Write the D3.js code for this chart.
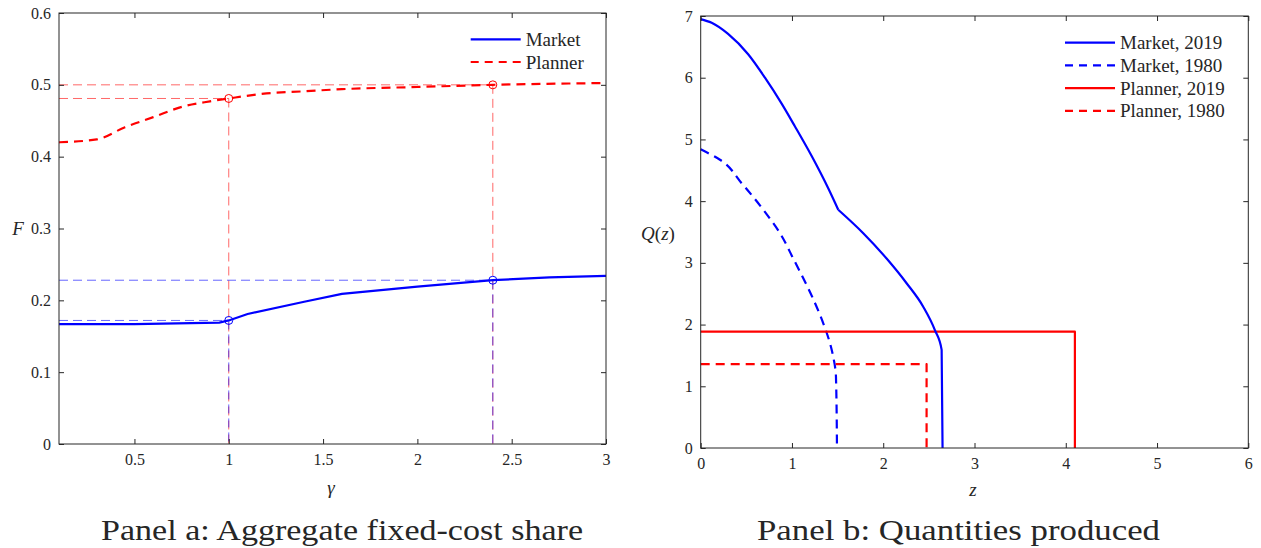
<!DOCTYPE html>
<html>
<head>
<meta charset="utf-8">
<script src="https://cdn.jsdelivr.net/npm/d3@7"></script>
<style>
  body { margin: 0; background: #fff; }
  svg text { font-family: "Liberation Serif", "DejaVu Serif", serif; fill: #262626; }
  .axis path { display: none; }
  .axis line { stroke: #262626; }
  .frame { fill: none; stroke: #262626; stroke-width: 1; }
</style>
</head>
<body>
<div id="chart"></div>
<script>
// ---- Panel a data: aggregate fixed-cost share F vs gamma ----
const gammaMarket = [0.1, 0.5, 0.95, 1.0, 1.1, 1.4, 1.6, 2.0, 2.4, 2.7, 3.0];
const fMarket     = [0.167, 0.167, 0.169, 0.172, 0.181, 0.198, 0.209, 0.219, 0.228, 0.232, 0.234];
const gammaPlanner = [0.1, 0.3, 0.45, 0.6, 0.76, 0.9, 1.0, 1.2, 1.4, 1.6, 2.0, 2.4, 3.0];
const fPlanner     = [0.420, 0.424, 0.441, 0.455, 0.470, 0.477, 0.481, 0.488, 0.491, 0.494, 0.497, 0.500, 0.5025];
// highlighted gammas and their values
const gammaMarks   = [1.0, 2.4];
const fMarketMarks = [0.172, 0.228];
const fPlannerMarks = [0.481, 0.500];
const panelATicksX = [0.5, 1, 1.5, 2, 2.5, 3];
const panelATicksY = [0, 0.1, 0.2, 0.3, 0.4, 0.5, 0.6];

// ---- Panel b data: quantities produced Q(z) ----
const zMarket2019 = [0, 0.12, 0.30, 0.52, 0.704, 0.887, 1.033, 1.216, 1.40, 1.507, 1.781, 2.037, 2.256, 2.438, 2.566, 2.64, 2.65];
const qMarket2019 = [6.95, 6.89, 6.71, 6.38, 6.00, 5.58, 5.21, 4.73, 4.20, 3.86, 3.48, 3.07, 2.67, 2.29, 1.91, 1.59, 0];
const kinkMarket2019 = 1.507; // non-smooth point of the 2019 market curve
const zMarket1980 = [0, 0.211, 0.449, 0.686, 0.869, 1.014, 1.124, 1.252, 1.343, 1.416, 1.452, 1.482, 1.493];
const qMarket1980 = [4.84, 4.67, 4.29, 3.86, 3.48, 3.07, 2.75, 2.35, 2.02, 1.70, 1.48, 1.16, 0];
const zPlanner2019 = [0, 4.10, 4.10];
const qPlanner2019 = [1.885, 1.885, 0];
const zPlanner1980 = [0, 2.475, 2.475];
const qPlanner1980 = [1.36, 1.36, 0];
const panelBTicksX = [0, 1, 2, 3, 4, 5, 6];
const panelBTicksY = [0, 1, 2, 3, 4, 5, 6, 7];

const BLUE = '#0000ff', RED = '#ff0000';

const svg = d3.select('#chart').append('svg')
  .attr('width', 1261)
  .attr('height', 548);

// draws box, inner ticks on all four sides and tick labels
function drawFrame(g, x, y, w, h, ticksX, ticksY, fmtX, fmtY) {
  g.append('g').attr('class', 'axis')
    .attr('transform', `translate(0,${h})`)
    .call(d3.axisBottom(x).tickValues(ticksX).tickFormat(fmtX).tickSizeInner(-5).tickSizeOuter(0).tickPadding(10))
    .selectAll('text').style('font-size', '16px').attr('fill', '#262626');
  g.append('g').attr('class', 'axis')
    .call(d3.axisTop(x).tickValues(ticksX).tickFormat('').tickSizeInner(-5).tickSizeOuter(0));
  g.append('g').attr('class', 'axis')
    .call(d3.axisLeft(y).tickValues(ticksY).tickFormat(fmtY).tickSizeInner(-5).tickSizeOuter(0).tickPadding(8))
    .selectAll('text').style('font-size', '16px').attr('fill', '#262626');
  g.append('g').attr('class', 'axis')
    .attr('transform', `translate(${w},0)`)
    .call(d3.axisRight(y).tickValues(ticksY).tickFormat('').tickSizeInner(-5).tickSizeOuter(0));
  g.append('rect').attr('class', 'frame')
    .attr('x', 0).attr('y', 0).attr('width', w).attr('height', h);
}

function drawLegend(g, items, x0, y0, rowH) {
  items.forEach((d, i) => {
    const yy = y0 + i * rowH;
    g.append('line')
      .attr('x1', x0).attr('x2', x0 + 50)
      .attr('y1', yy).attr('y2', yy)
      .attr('stroke', d.color).attr('stroke-width', 2.2)
      .attr('stroke-dasharray', d.dash ? '8,6' : null);
    g.append('text')
      .attr('x', x0 + 55).attr('y', yy)
      .attr('dy', '0.35em')
      .style('font-size', '19px')
      .text(d.label);
  });
}

// ================= Panel a =================
{
  const m = { left: 59, top: 13 }, w = 547, h = 431;
  const g = svg.append('g').attr('transform', `translate(${m.left},${m.top})`);
  const x = d3.scaleLinear().domain([0.1, 3]).range([0, w]);
  const y = d3.scaleLinear().domain([0, 0.6]).range([h, 0]);

  // thin reference lines (red first, blue on top)
  [[fPlannerMarks, RED], [fMarketMarks, BLUE]].forEach(([vals, col]) => {
    gammaMarks.forEach((gm, i) => {
      g.append('line')
        .attr('x1', x(0.1)).attr('x2', x(gm))
        .attr('y1', y(vals[i])).attr('y2', y(vals[i]))
        .attr('stroke', col).attr('stroke-opacity', 0.6)
        .attr('stroke-width', 1).attr('stroke-dasharray', '9,5');
      g.append('line')
        .attr('x1', x(gm)).attr('x2', x(gm))
        .attr('y1', y(vals[i])).attr('y2', y(0))
        .attr('stroke', col).attr('stroke-opacity', 0.6)
        .attr('stroke-width', 1).attr('stroke-dasharray', '9,5');
    });
  });

  const line = d3.line().x(d => x(d[0])).y(d => y(d[1]));
  g.append('path')
    .datum(d3.zip(gammaMarket, fMarket))
    .attr('d', line)
    .attr('fill', 'none').attr('stroke', BLUE).attr('stroke-width', 2.2);
  g.append('path')
    .datum(d3.zip(gammaPlanner, fPlanner))
    .attr('d', line.curve(d3.curveMonotoneX))
    .attr('fill', 'none').attr('stroke', RED).attr('stroke-width', 2.2)
    .attr('stroke-dasharray', '9,6');

  // circles at highlighted points
  [[fPlannerMarks, RED], [fMarketMarks, BLUE]].forEach(([vals, col]) => {
    g.selectAll(null).data(gammaMarks).enter().append('circle')
      .attr('cx', d => x(d)).attr('cy', (d, i) => y(vals[i]))
      .attr('r', 4).attr('fill', 'none').attr('stroke', col).attr('stroke-width', 1);
  });

  drawFrame(g, x, y, w, h, panelATicksX, panelATicksY, d3.format('~g'), d3.format('~g'));

  drawLegend(g, [
    { label: 'Market', color: BLUE, dash: false },
    { label: 'Planner', color: RED, dash: true }
  ], 470.7 - m.left, 39.3 - m.top, 22.7);

  svg.append('text')
    .attr('x', 18).attr('y', 228).attr('dy', '0.35em')
    .attr('text-anchor', 'middle')
    .style('font-size', '19px').style('font-style', 'italic')
    .text('F');
  svg.append('text')
    .attr('x', 331).attr('y', 487).attr('dy', '0.35em')
    .attr('text-anchor', 'middle')
    .style('font-size', '19px').style('font-style', 'italic')
    .text('γ');
  svg.append('text')
    .attr('x', 101).attr('y', 540)
    .attr('textLength', 482).attr('lengthAdjust', 'spacingAndGlyphs')
    .style('font-size', '29px')
    .text('Panel a: Aggregate fixed-cost share');
}

// ================= Panel b =================
{
  const m = { left: 700.7, top: 16 }, w = 547.6, h = 432;
  const g = svg.append('g').attr('transform', `translate(${m.left},${m.top})`);
  const x = d3.scaleLinear().domain([0, 6]).range([0, w]);
  const y = d3.scaleLinear().domain([0, 7]).range([h, 0]);
  const line = d3.line().x(d => x(d[0])).y(d => y(d[1]));

  const m2019 = d3.zip(zMarket2019, qMarket2019);
  const k = zMarket2019.indexOf(kinkMarket2019);

  const series = [
    { pts: d3.zip(zMarket1980, qMarket1980), color: BLUE, dash: true, curve: d3.curveMonotoneY },
    { pts: d3.zip(zPlanner1980, qPlanner1980), color: RED, dash: true, curve: d3.curveLinear },
    { pts: d3.zip(zPlanner2019, qPlanner2019), color: RED, dash: false, curve: d3.curveLinear },
    // 2019 market curve drawn as two smooth pieces meeting at the kink
    { pts: m2019.slice(0, k + 1), color: BLUE, dash: false, curve: d3.curveMonotoneX },
    { pts: m2019.slice(k), color: BLUE, dash: false, curve: d3.curveMonotoneX }
  ];
  series.forEach(s => {
    g.append('path')
      .datum(s.pts)
      .attr('d', line.curve(s.curve))
      .attr('fill', 'none').attr('stroke', s.color).attr('stroke-width', 2.2)
      .attr('stroke-linejoin', 'round')
      .attr('stroke-dasharray', s.dash ? '9,6' : null);
  });

  drawFrame(g, x, y, w, h, panelBTicksX, panelBTicksY, d3.format('d'), d3.format('d'));

  drawLegend(g, [
    { label: 'Market, 2019', color: BLUE, dash: false },
    { label: 'Market, 1980', color: BLUE, dash: true },
    { label: 'Planner, 2019', color: RED, dash: false },
    { label: 'Planner, 1980', color: RED, dash: true }
  ], 1065 - m.left, 42.7 - m.top, 22.7);

  svg.append('text')
    .attr('x', 658).attr('y', 233).attr('dy', '0.35em')
    .attr('text-anchor', 'middle')
    .style('font-size', '19px')
    .html('<tspan font-style="italic">Q</tspan>(<tspan font-style="italic">z</tspan>)');
  svg.append('text')
    .attr('x', 973).attr('y', 489).attr('dy', '0.35em')
    .attr('text-anchor', 'middle')
    .style('font-size', '19px').style('font-style', 'italic')
    .text('z');
  svg.append('text')
    .attr('x', 757).attr('y', 540)
    .attr('textLength', 403).attr('lengthAdjust', 'spacingAndGlyphs')
    .style('font-size', '29px')
    .text('Panel b: Quantities produced');
}
</script>
</body>
</html>
